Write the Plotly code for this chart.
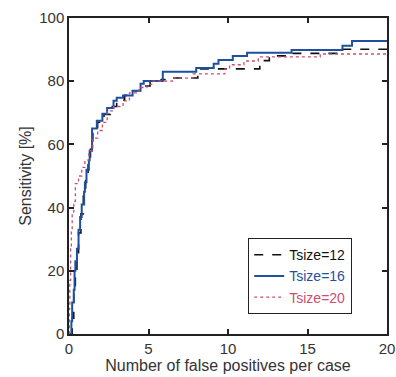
import plotly.graph_objects as go

# Tsize=12 (black dashed)
x12 = [0, 0.2, 0.3, 0.4, 0.5, 0.6, 0.75, 0.9, 1.05, 1.2, 1.35, 1.5, 1.8, 2.2, 2.6, 3.0, 3.5, 4.0, 4.6, 5.1, 5.8, 6.5, 8.1, 12.0, 12.6, 14.0, 17.2, 20]
y12 = [0, 5, 15, 20, 25, 32, 38, 44, 50, 56, 60, 64, 67, 69.5, 72, 74, 75.5, 77, 78.5, 80, 80.5, 81, 83.9, 86.5, 88, 88.8, 90.1, 90.1]

# Tsize=16 (blue solid)
x16 = [0, 0.15, 0.2, 0.3, 0.35, 0.4, 0.5, 0.6, 0.7, 0.8, 0.95, 1.0, 1.1, 1.25, 1.3, 1.45, 1.75, 2.1, 2.4, 2.8, 3.0, 3.4, 4.0, 4.5, 4.7, 5.9, 8.0, 9.1, 9.4, 10.3, 11.2, 14.0, 17.2, 17.8, 20]
y16 = [0, 4, 10, 14, 20, 23, 27, 33, 37, 41, 45, 48, 52, 55, 58, 65, 67.5, 69.7, 71.5, 73.8, 74.8, 75.5, 77, 79.2, 80.1, 83, 84.2, 85.5, 86.7, 88, 89, 89.9, 91.2, 92.7, 92.7]

# Tsize=20 (pink dotted)
x20 = [0, 0.02, 0.05, 0.1, 0.15, 0.2, 0.3, 0.4, 0.6, 0.8, 1.0, 1.25, 1.5, 1.8, 2.1, 2.4, 2.8, 3.4, 3.8, 4.4, 4.9, 5.3, 6.5, 7.8, 9.8, 10.1, 11.0, 11.9, 15.8, 20]
y20 = [0, 8, 17, 27, 33, 38, 42, 47.6, 50, 52.7, 55, 58, 62, 64.4, 67, 70.6, 72, 73.8, 76.3, 78, 79, 80, 81, 82.3, 83.9, 85.2, 86.4, 87.7, 88.6, 88.6]

x_ticks = [0, 5, 10, 15, 20]
y_ticks = [0, 20, 40, 60, 80, 100]

BLACK = "#111111"
BLUE = "#1f4f9f"
PINK = "#c9506f"

fig = go.Figure()
fig.add_trace(go.Scatter(x=x12, y=y12, mode="lines", line_shape="hv",
                         line=dict(color=BLACK, width=1.6, dash="dash"),
                         name=f'<span style="color:{BLACK}">Tsize=12</span>'))
fig.add_trace(go.Scatter(x=x16, y=y16, mode="lines", line_shape="hv",
                         line=dict(color=BLUE, width=2),
                         name=f'<span style="color:{BLUE}">Tsize=16</span>'))
fig.add_trace(go.Scatter(x=x20, y=y20, mode="lines", line_shape="hv",
                         line=dict(color=PINK, width=1.3, dash="dot"),
                         name=f'<span style="color:{PINK}">Tsize=20</span>'))

axis_common = dict(showline=True, linecolor="#222", linewidth=1.5, mirror="ticks",
                   ticks="inside", ticklen=5, tickcolor="#222", tickwidth=1.5,
                   showgrid=False, zeroline=False, automargin=False,
                   tickfont=dict(family="Liberation Sans, Arial", size=15, color="#333"))

fig.update_layout(
    width=396, height=377,
    margin=dict(l=69, r=9, t=18, b=43),
    paper_bgcolor="white", plot_bgcolor="white",
    font=dict(family="Liberation Sans, Arial", size=15, color="#333"),
    xaxis=dict(range=[0, 20], tickvals=x_ticks,
               title=dict(text="Number of false positives per case", standoff=0,
                          font=dict(size=16, color="#333")),
               **axis_common),
    yaxis=dict(range=[0, 100], tickvals=y_ticks,
               title=dict(text="Sensitivity [%]", standoff=4,
                          font=dict(size=16, color="#333")),
               **axis_common),
    legend=dict(x=0.563, y=0.304, xanchor="left", yanchor="top",
                bgcolor="white", bordercolor="#222", borderwidth=1.2,
                font=dict(size=14), tracegroupgap=0, itemwidth=30),
    showlegend=True,
)

fig.write_html("out.html", config={"displayModeBar": False},
               post_script="document.body.style.margin='0';document.body.style.overflow='hidden';")
